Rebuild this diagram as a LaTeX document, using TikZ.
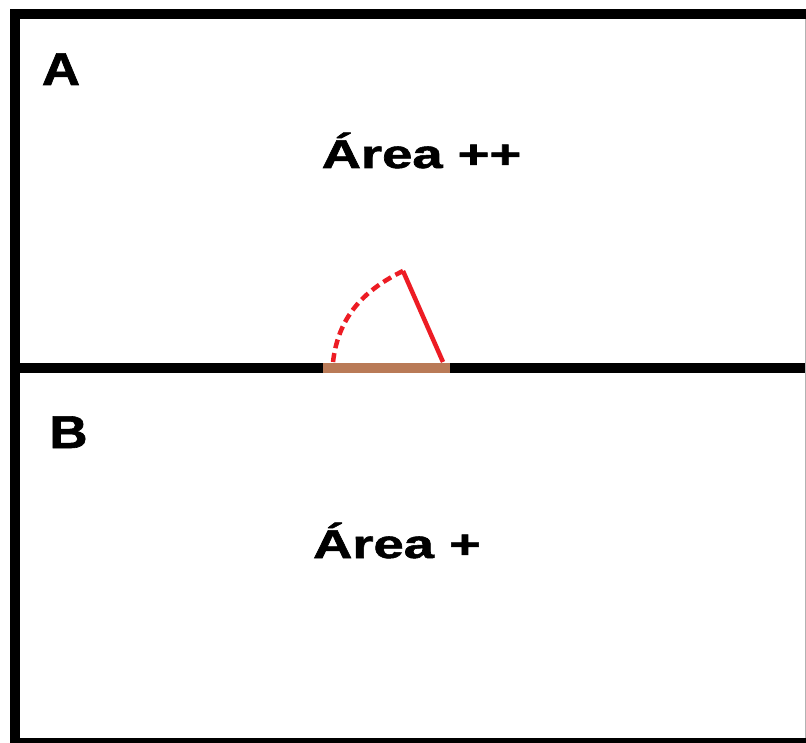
\documentclass[tikz,border=0pt]{standalone}
\usepackage{fontspec}
\setmainfont{Liberation Sans}
\newfontfamily\heavy[FakeBold=1.3]{Liberation Sans Bold}
\definecolor{paintred}{HTML}{ED1C24}
\definecolor{paintbrown}{HTML}{B97A57}
\begin{document}
\begin{tikzpicture}[x=1pt,y=-1pt,
  border/.style={line width=10pt,black},
  redline/.style={line width=4.5pt,paintred},
  bigtxt/.style={inner sep=0pt,anchor=base,font=\fontsize{40}{40}\heavy},
  lbl/.style={inner sep=0pt,anchor=base,font=\fontsize{46}{46}\heavy}]
\useasboundingbox (0,0) rectangle (806,743);
\clip (0,0) rectangle (806,743);
\fill[white] (0,0) rectangle (806,743);
% frame
\coordinate (tl) at (15,14);
\coordinate (tr) at (815,14);
\coordinate (bl) at (15,743);
\coordinate (br) at (815,743);
\coordinate (ml) at (15,368);
\coordinate (mr) at (815,368);
\draw[border,line cap=rect] (bl) -- (tl) -- (tr);
\draw[border] (bl) -- (br);
\draw[border] (ml) -- (mr);
\coordinate (re1) at (805.5,19);
\coordinate (re2) at (805.5,738);
\draw[gray!60,line width=1pt] (re1) -- (re2);
% brown segment
\coordinate (b1) at (323,368);
\coordinate (b2) at (450,368);
\draw[line width=10pt,paintbrown] (b1) -- (b2);
% red angle
\coordinate (apex) at (403,271);
\coordinate (s1) at (333,362);
\coordinate (s2) at (443,362);
\draw[redline] (apex) -- (s2);
\draw[redline,dash pattern=on 9pt off 5pt] (s1) .. controls (338,320) and (360,292) .. (apex);
% texts
\node[lbl] (A) at (61,85) {\scalebox{1.15}[1]{A}};
\node[lbl] (B) at (68.5,448) {\scalebox{1.15}[1]{B}};
\node[bigtxt] (t1) at (421.5,168) {\scalebox{1.36}[1]{Área ++}};
\node[bigtxt] (t2) at (397,558) {\scalebox{1.36}[1]{Área +}};
\end{tikzpicture}
\end{document}
